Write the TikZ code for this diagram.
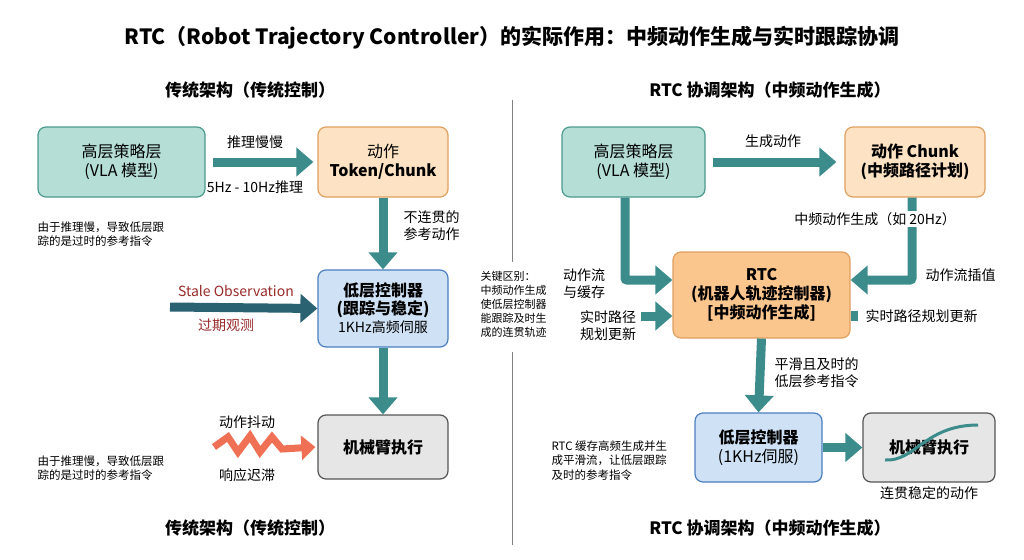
\documentclass[tikz,border=0pt]{standalone}
\usepackage{fontspec}
\setmainfont{Noto Sans CJK SC}
\usetikzlibrary{arrows.meta}
\definecolor{tealF}{HTML}{B5DED7}\definecolor{tealD}{HTML}{4A9A8E}
\definecolor{orF}{HTML}{FDE3C3}\definecolor{orD}{HTML}{E0A060}
\definecolor{orF2}{HTML}{FBC58E}
\definecolor{blF}{HTML}{CFE2F5}\definecolor{blD}{HTML}{4A7FC0}
\definecolor{grF}{HTML}{E6E6E6}\definecolor{grD}{HTML}{555555}
\definecolor{arr}{HTML}{3D8C8C}\definecolor{arrD}{HTML}{2A6272}
\definecolor{redT}{HTML}{9A2A2A}\definecolor{zig}{HTML}{F07055}
\begin{document}
\begin{tikzpicture}[x=1pt,y=-1pt,
 box/.style={draw,line width=1.2pt,rounded corners=8pt,align=center,inner sep=0pt,font=\fontsize{16}{19}\selectfont},
 big/.style={line width=9pt,-{Triangle[length=17pt,width=28pt]}},
 lab/.style={font=\fontsize{14}{17}\selectfont,align=center},
 note/.style={font=\fontsize{11.5}{14.5}\selectfont,align=left,anchor=north west}]
\useasboundingbox (0,0) rectangle (1024,559);
\fill[white] (0,0) rectangle (1024,559);
\node[font=\bfseries\fontsize{21}{25}\selectfont] (title) at (512,38) {RTC（Robot Trajectory Controller）的实际作用：中频动作生成与实时跟踪协调};
\node[font=\bfseries\fontsize{17}{20}\selectfont] (stl) at (250,90) {传统架构（传统控制）};
\node[font=\bfseries\fontsize{17}{20}\selectfont] (str) at (770,90) {RTC 协调架构（中频动作生成）};
\node[font=\bfseries\fontsize{17}{20}\selectfont] (sbl) at (250,528) {传统架构（传统控制）};
\node[font=\bfseries\fontsize{17}{20}\selectfont] (sbr) at (770,528) {RTC 协调架构（中频动作生成）};
\draw[gray,line width=0.8pt] (512,100) -- (512,262) (512,352) -- (512,545);
\node[note,font=\fontsize{11}{14}\selectfont] (key) at (477,268) {关键区别：\\中频动作生成\\使低层控制器\\能跟踪及时生\\成的连贯轨迹};
% left
\node[box,fill=tealF,draw=tealD,minimum width=167pt,minimum height=70pt] (hl) at (121.5,162) {高层策略层\\(VLA 模型)};
\node[box,fill=orF,draw=orD,minimum width=130pt,minimum height=70pt] (tok) at (383,162) {动作\\\textbf{Token/Chunk}};
\node[box,fill=blF,draw=blD,minimum width=130pt,minimum height=77pt,font=\fontsize{16}{18}\selectfont] (lc) at (383,308.5) {\textbf{低层控制器}\\\textbf{(跟踪与稳定)}\\{\fontsize{14}{17}\selectfont 1KHz高频伺服}};
\node[box,fill=grF,draw=grD,minimum width=130pt,minimum height=64pt] (arm) at (383,447) {\textbf{机械臂执行}};
\draw[arr,big] (hl.east)++(7,0) -- ([xshift=-4pt]tok.west);
\node[lab] (l1) at (255,142) {推理慢慢};
\node[lab] (l2) at (255,187) {5Hz - 10Hz推理};
\draw[arr,big] (tok.south) -- (lc.north);
\node[lab,anchor=west] (l3) at (400,226) {不连贯的\\参考动作};
\coordinate (s0) at (170,307);
\draw[arrD,big] (s0) -- (lc.west);
\node[lab,text=redT] (l4) at (236,291) {Stale Observation};
\node[lab,text=redT] (l5) at (226,325) {过期观测};
\draw[arr,big] (lc.south) -- (arm.north);
\coordinate (z0) at (214,447);
\draw[zig,line width=7pt,line join=miter,miter limit=3,-{Triangle[length=14pt,width=24pt]}] (z0) -- (228,437) -- (238,452) -- (250,436) -- (260,452) -- (272,437) -- (282,449) -- ([xshift=-2pt]arm.west);
\node[lab] (l6) at (247,422) {动作抖动};
\node[lab] (l7) at (247,475) {响应迟滞};
\node[note] (n1) at (34,218) {由于推理慢，导致低层跟\\踪的是过时的参考指令};
\node[note] (n2) at (34,452) {由于推理慢，导致低层跟\\踪的是过时的参考指令};
% right
\node[box,fill=tealF,draw=tealD,minimum width=143pt,minimum height=70pt] (hr) at (633.5,162) {高层策略层\\(VLA 模型)};
\node[box,fill=orF,draw=orD,minimum width=140pt,minimum height=70pt] (ch) at (915,162) {\textbf{动作 Chunk}\\\textbf{(中频路径计划)}};
\node[box,fill=orF2,draw=orD,minimum width=177pt,minimum height=86pt,font=\bfseries\fontsize{16}{19}\selectfont] (rtc) at (761.5,295) {RTC\\(机器人轨迹控制器)\\{[中频动作生成]}};
\node[box,fill=blF,draw=blD,minimum width=127pt,minimum height=69pt] (lr) at (758.5,447.5) {\textbf{低层控制器}\\(1KHz伺服)};
\node[box,fill=grF,draw=grD,minimum width=132pt,minimum height=69pt] (ar) at (929,447.5) {\textbf{机械臂执行}};
\draw[arr,line width=3pt] (885,460) .. controls (915,462) and (925,425) .. (978,425);
\draw[arr,big] ([xshift=7pt]hr.east) -- ([xshift=-8pt]ch.west);
\node[lab] (r1) at (773,141) {生成动作};
\draw[arr,big,rounded corners=2pt] (hr.south -| 625,0) |- ([yshift=15pt]rtc.west);
\draw[arr,big,rounded corners=2pt] (ch.south -| 912,0) |- ([yshift=15pt]rtc.east);
\node[lab,fill=white,inner sep=1pt] (r2) at (875,219) {中频动作生成（如 20Hz）};
\node[lab,anchor=west] (r3) at (922,275) {动作流插值};
\node[lab] (r4) at (584,284) {动作流\\与缓存};
\node[lab] (r5) at (608,326) {实时路径\\规划更新};
\coordinate (p0) at (641,316);
\draw[arr,big] (p0) -- (rtc.west |- p0);
\fill[arr] (851,311) rectangle (858,321);
\node[lab,anchor=west] (r6) at (862,316) {实时路径规划更新};
\draw[arr,big] (rtc.south) -- (lr.north);
\node[lab,anchor=west] (r7) at (771,373) {平滑且及时的\\低层参考指令};
\draw[arr,big] (lr.east) -- (ar.west);
\node[note] (n3) at (548,437) {RTC 缓存高频生成并生\\成平滑流，让低层跟踪\\及时的参考指令};
\node[lab] (r8) at (929,493) {连贯稳定的动作};
\end{tikzpicture}
\end{document}
